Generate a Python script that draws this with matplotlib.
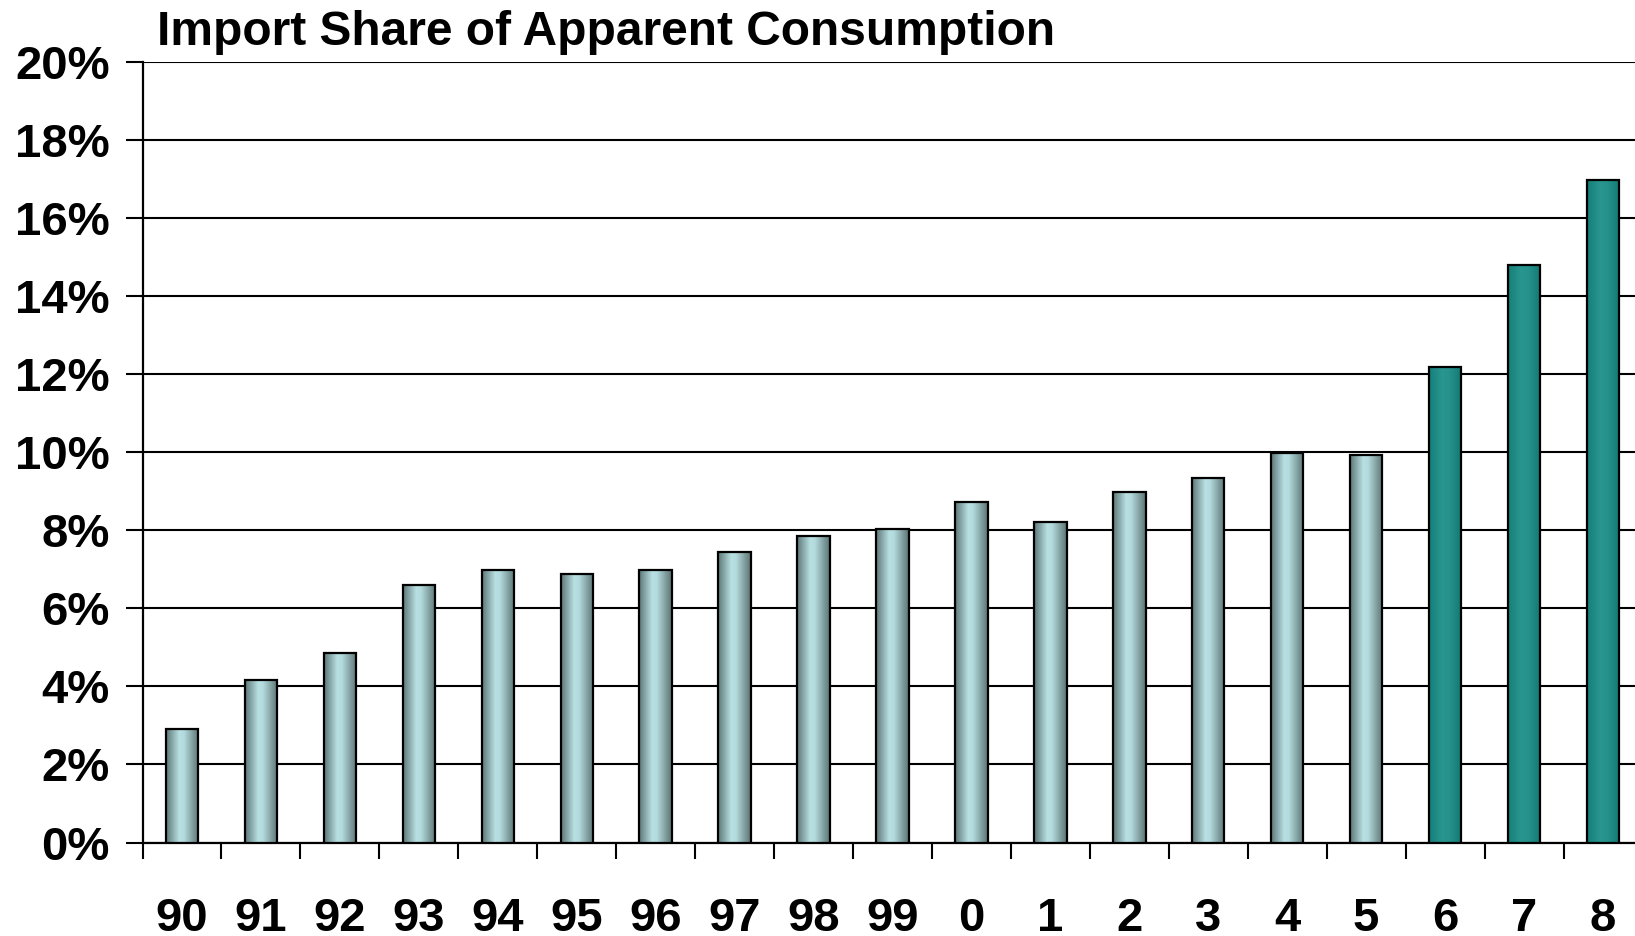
import numpy as np
import matplotlib.pyplot as plt
from matplotlib.colors import LinearSegmentedColormap

years = ["90", "91", "92", "93", "94", "95", "96", "97", "98", "99",
         "0", "1", "2", "3", "4", "5", "6", "7", "8"]
share = [2.9, 4.15, 4.85, 6.6, 6.97, 6.87, 6.97, 7.45, 7.85, 8.02,
         8.72, 8.2, 8.98, 9.33, 9.97, 9.92, 12.17, 14.78, 16.98]
highlight = [False] * 16 + [True] * 3

plt.rcParams['font.family'] = ['Liberation Sans', 'DejaVu Sans']

fig = plt.figure(figsize=(16.35, 9.36), dpi=100)
ax = fig.add_axes([142.5 / 1635, 1 - 842.5 / 936, 1500 / 1635, (842.5 - 61.7) / 936])

gray_cm = LinearSegmentedColormap.from_list(
    "g", [(0, "#5f7878"), (0.4, "#b8dfe2"), (0.55, "#b3dadd"), (1, "#5d7575")])
teal_cm = LinearSegmentedColormap.from_list(
    "t", [(0, "#157f79"), (0.4, "#2a9690"), (0.6, "#27928c"), (1, "#127a74")])
grad = np.linspace(0, 1, 64).reshape(1, -1)

width = 0.41
x = np.arange(len(years)) + 0.5
bars = ax.bar(x, share, width=width, facecolor="none", edgecolor="black",
              linewidth=1.6, zorder=4)
for b, hl in zip(bars, highlight):
    x0 = b.get_x()
    ax.imshow(grad, cmap=teal_cm if hl else gray_cm, aspect="auto",
              extent=(x0, x0 + b.get_width(), 0, b.get_height()),
              interpolation="bilinear", zorder=3)

ax.set_xlim(0, len(years))
ax.set_ylim(0, 20)
ax.set_yticks(np.arange(0, 21, 2))
ax.set_yticklabels([f"{v}%" for v in range(0, 21, 2)])
ax.yaxis.grid(True, color="black", linewidth=1.5, zorder=1)
ax.set_axisbelow(True)

ax.set_xticks(np.arange(0, len(years) + 1))
ax.set_xticklabels([])
ax.set_xticks(x, minor=True)
ax.set_xticklabels(years, minor=True)
ax.tick_params(axis="x", which="major", length=11.5, width=1.5, direction="out")
ax.tick_params(axis="x", which="minor", length=0, pad=39, labelsize=34)
ax.tick_params(axis="y", length=12.5, width=1.5, pad=11, labelsize=34)
for lab in ax.get_xticklabels(minor=True) + ax.get_yticklabels():
    lab.set_fontweight("bold")

for s in ["left", "bottom"]:
    ax.spines[s].set_linewidth(1.6)
ax.spines["top"].set_visible(False)
ax.spines["right"].set_visible(False)

fig.text(157 / 1635, 1 - 45 / 936, "Import Share of Apparent Consumption",
         fontsize=34.5, fontweight="bold", va="baseline", ha="left")

fig.savefig("out.png", dpi=100)
